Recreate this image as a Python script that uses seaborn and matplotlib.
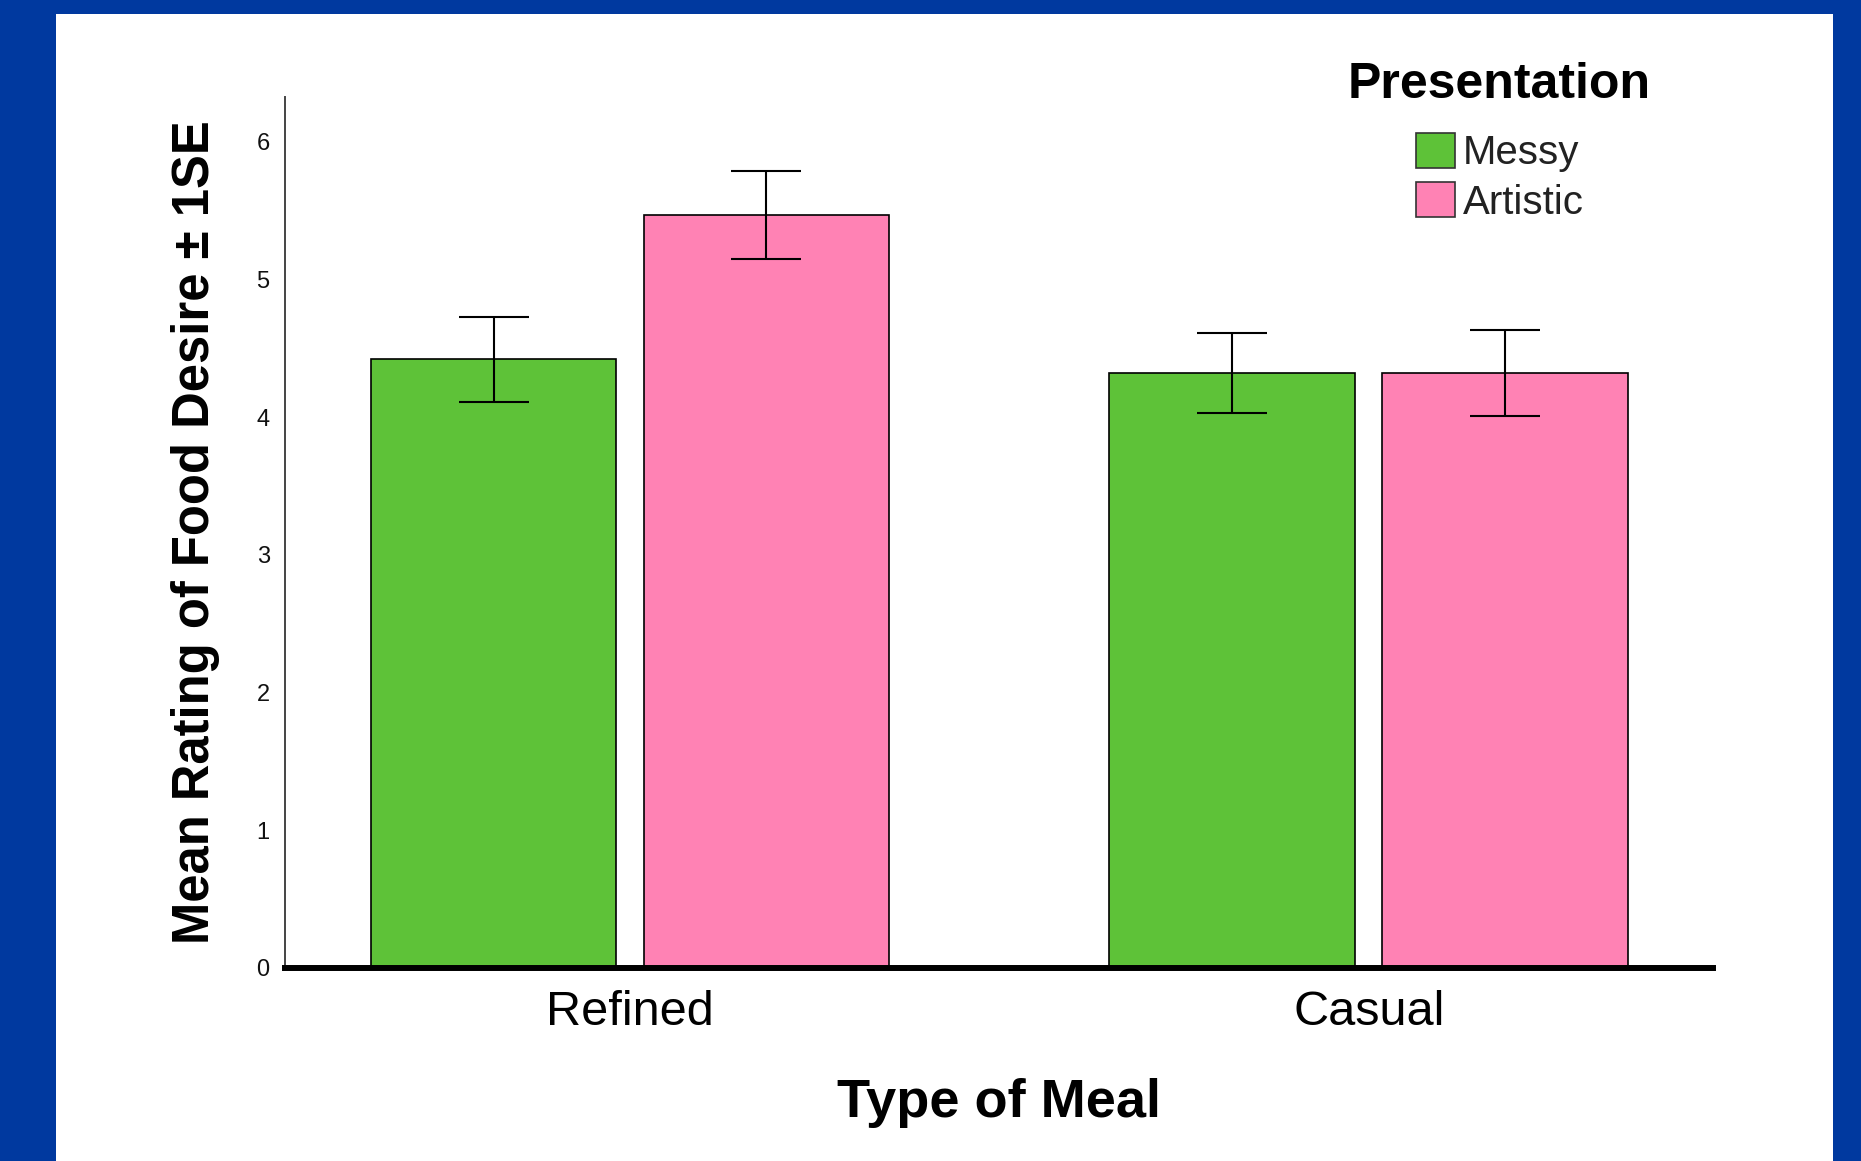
import matplotlib
matplotlib.use("Agg")
import matplotlib.pyplot as plt
import seaborn as sns
import pandas as pd
from matplotlib.patches import Rectangle, Patch

# Mean food-desire ratings (±1 SE) by meal type and presentation style
meal_types = ["Refined", "Casual"]
presentations = ["Messy", "Artistic"]
mean_messy = [4.42, 4.32]
mean_artistic = [5.47, 4.32]
se_messy = [0.31, 0.29]
se_artistic = [0.32, 0.31]
y_ticks = [0, 1, 2, 3, 4, 5, 6]

colors = {"Messy": "#5EC238", "Artistic": "#FF82B4"}
means = {"Messy": mean_messy, "Artistic": mean_artistic}
ses = {"Messy": se_messy, "Artistic": se_artistic}

df = pd.DataFrame({
    "meal": meal_types * 2,
    "presentation": ["Messy"] * len(meal_types) + ["Artistic"] * len(meal_types),
    "mean": mean_messy + mean_artistic,
})

sns.set_style("white")
plt.rcParams["font.family"] = ["Liberation Sans", "DejaVu Sans"]
plt.rcParams["text.color"] = "black"
plt.rcParams["axes.labelcolor"] = "black"

W, H = 1861, 1161
fig = plt.figure(figsize=(W / 100, H / 100), dpi=100, facecolor="#00399F")
# white page inside the blue frame
page = Rectangle((56 / W, 0), (1833 - 56) / W, (H - 14) / H,
                 transform=fig.transFigure, facecolor="white",
                 edgecolor="none", zorder=-10)
fig.patches.append(page)

ax = fig.add_axes([285 / W, (H - 968) / H, (1713 - 285) / W, (968 - 97) / H])
ax.set_facecolor("none")
ax.set_zorder(1)

sns.barplot(data=df, x="meal", y="mean", hue="presentation",
            order=meal_types, hue_order=presentations, palette=colors,
            width=0.739, gap=0.099, errorbar=None, edgecolor="black",
            linewidth=1.2, saturation=1, legend=False, ax=ax, zorder=2)

# ±1 SE error bars centred on each bar
for cont, pres in zip(ax.containers, presentations):
    xs = [b.get_x() + b.get_width() / 2 for b in cont]
    ax.errorbar(xs, means[pres], yerr=ses[pres], fmt="none", ecolor="black",
                elinewidth=1.5, capsize=25, capthick=1.5, zorder=5)

ax.set_xlim(-0.467, 1.466)
ax.set_ylim(0, 6.325)
ax.set_yticks(y_ticks)
ax.set_yticklabels([str(t) for t in y_ticks])

ax.tick_params(axis="y", length=0, pad=11, labelsize=17, labelcolor="#111111")
ax.tick_params(axis="x", length=0, pad=16, labelsize=35, labelcolor="black")

for side in ("top", "right"):
    ax.spines[side].set_visible(False)
ax.spines["left"].set_color("#444444")
ax.spines["left"].set_linewidth(1.4)
ax.spines["bottom"].set_color("black")
ax.spines["bottom"].set_linewidth(4.3)
ax.spines["bottom"].set_zorder(6)

ax.set_xlabel("Type of Meal", fontsize=39, fontweight="bold", color="black")
ax.xaxis.label.set_va("baseline")
ax.xaxis.set_label_coords(0.5, (968 - 1116.7) / 871)
ax.set_ylabel("Mean Rating of Food Desire ± 1SE", fontsize=36.5,
              fontweight="bold", color="black")
ax.yaxis.label.set_va("baseline")
ax.yaxis.set_label_coords((209 - 285) / 1428, 0.5)

handles = [Patch(facecolor=colors[p], edgecolor="#333333", linewidth=1.2)
           for p in presentations]
leg = ax.legend(handles, presentations, title="Presentation", loc="upper left",
                bbox_to_anchor=(1348 / W, 1 - 62 / H),
                bbox_transform=fig.transFigure,
                frameon=False, fontsize=29, labelcolor="#222222",
                title_fontproperties={"weight": "bold", "size": 36},
                handlelength=0.97, handleheight=0.97, handletextpad=0.2,
                labelspacing=0.24, borderpad=0, borderaxespad=0)
leg.get_title().set_color("black")
# extra room between the legend title and its entries
leg._legend_box.sep = 18

fig.savefig("out.png", dpi=100, facecolor=fig.get_facecolor())
